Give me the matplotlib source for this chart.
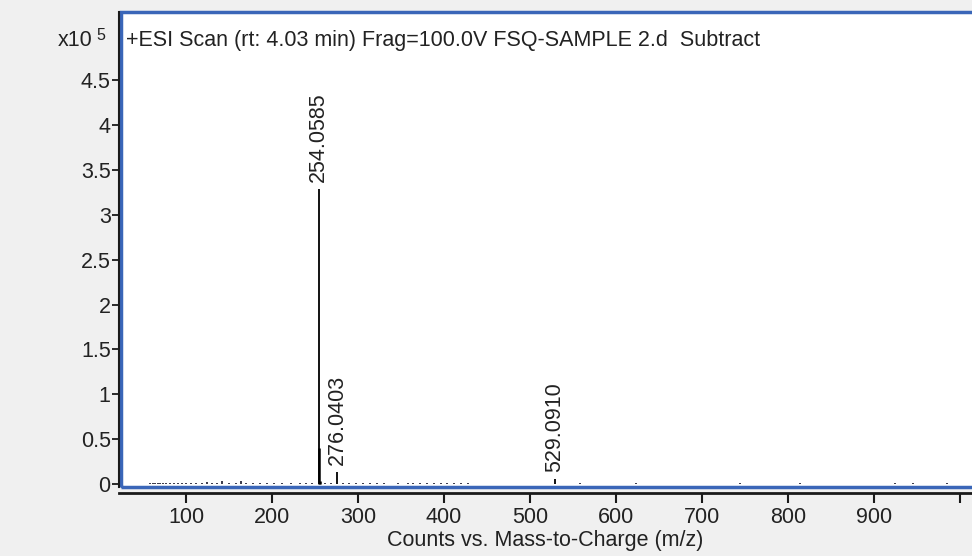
import numpy as np
import matplotlib
matplotlib.use("Agg")
import matplotlib.pyplot as plt
from matplotlib.patches import Rectangle

plt.rcParams['font.family'] = ['Liberation Sans', 'DejaVu Sans']

# Main labelled peaks (m/z, counts)
peak_mz = [254.0585, 276.0403, 529.0910]
peak_counts = [328000, 14000, 6000]
peak_labels = ["254.0585", "276.0403", "529.0910"]

# Unlabelled peaks: isotope and baseline noise
minor_mz = [255.06, 256.06]
minor_counts = [40000, 3500]
noise_mz = [58, 61, 64, 67, 70, 73, 77, 81, 86, 91, 95, 100, 106, 112, 118,
            124, 130, 136, 142, 150, 158, 164, 170, 178, 186, 194, 202, 212,
            222, 232, 240, 246, 262, 268, 282, 290, 298, 306, 314, 322, 330,
            346, 358, 364, 372, 380, 388, 396, 404, 412, 420, 428,
            558, 623, 744, 814, 924, 945, 985]
noise_counts = [1500, 1200, 1800, 1000, 1400, 1100, 1600, 1300, 1000, 1500,
                1200, 1700, 1100, 1300, 1500, 3000, 1200, 1400, 3200, 1300,
                1100, 3500, 1400, 1200, 1000, 1300, 1500, 1200, 1100, 1400,
                1200, 1600, 1800, 2000, 1700, 1500, 1300, 1600, 1200, 1400,
                1500, 1300, 1800, 1200, 1600, 1400, 1300, 1700, 1200, 1500,
                1400, 1300, 1200, 1200, 1100, 1200, 1100, 1200, 1100]

yticks = [0, 0.5, 1, 1.5, 2, 2.5, 3, 3.5, 4, 4.5]
ytick_labels = ["0", "0.5", "1", "1.5", "2", "2.5", "3", "3.5", "4", "4.5"]
xticks = [100, 200, 300, 400, 500, 600, 700, 800, 900, 1000]
xtick_labels = ["100", "200", "300", "400", "500", "600", "700", "800", "900", ""]
scale = 1e5

txt = "#222222"
fs = 15.5
fig = plt.figure(figsize=(9.72, 5.56), dpi=100, facecolor="#f0f0f0")
ax = fig.add_axes([0.1224, 0.124, 0.8776, 0.854])
ax.set_facecolor("white")

ax.vlines(noise_mz, 0, np.array(noise_counts) / scale, color="#1a1a2e", lw=1.2)
ax.vlines(minor_mz, 0, np.array(minor_counts) / scale, color="black", lw=1.8)
ax.vlines(peak_mz, 0, np.array(peak_counts) / scale, color="black", lw=1.3)

for mz, c, lab in zip(peak_mz, peak_counts, peak_labels):
    ax.annotate(lab, (mz, c / scale), xytext=(0, 5), textcoords="offset points",
                rotation=90, ha="center", va="bottom", fontsize=fs, color=txt)

ax.set_xlim(22, 1014)
ax.set_ylim(-0.03, 5.25)
ax.set_yticks(yticks)
ax.set_yticklabels(ytick_labels)
ax.set_xticks(xticks)
ax.set_xticklabels(xtick_labels)

for s in ["top", "right"]:
    ax.spines[s].set_visible(False)
ax.spines["left"].set_color("#1a1a1a")
ax.spines["left"].set_linewidth(1.5)
ax.spines["bottom"].set_color("#1a1a1a")
ax.spines["bottom"].set_linewidth(2)
ax.spines["bottom"].set_position(("outward", 4))
ax.tick_params(axis="y", direction="out", length=5, width=1.3, color="#1a1a1a",
               labelsize=fs, labelcolor=txt, pad=1)
ax.tick_params(axis="x", direction="out", length=7, width=1.5, color="#1a1a1a",
               labelsize=fs, labelcolor=txt, pad=3)

# blue plot-area frame
ax.add_patch(Rectangle((0.002, 0.0), 1.1, 1.0, transform=ax.transAxes,
                       fill=False, edgecolor="#3a66b8", lw=2.5, clip_on=False))

ax.text(0.008, 0.94, "+ESI Scan (rt: 4.03 min) Frag=100.0V FSQ-SAMPLE 2.d  Subtract",
        transform=ax.transAxes, fontsize=fs, color=txt, va="center", ha="left")

fig.text(0.095, 0.927, "x10", fontsize=fs, color=txt, ha="right", va="center")
fig.text(0.099, 0.937, "5", fontsize=11.5, color=txt, ha="left", va="center")

ax.set_xlabel("Counts vs. Mass-to-Charge (m/z)", fontsize=fs, color=txt, labelpad=2)

fig.savefig("out.png", dpi=100, facecolor=fig.get_facecolor())
